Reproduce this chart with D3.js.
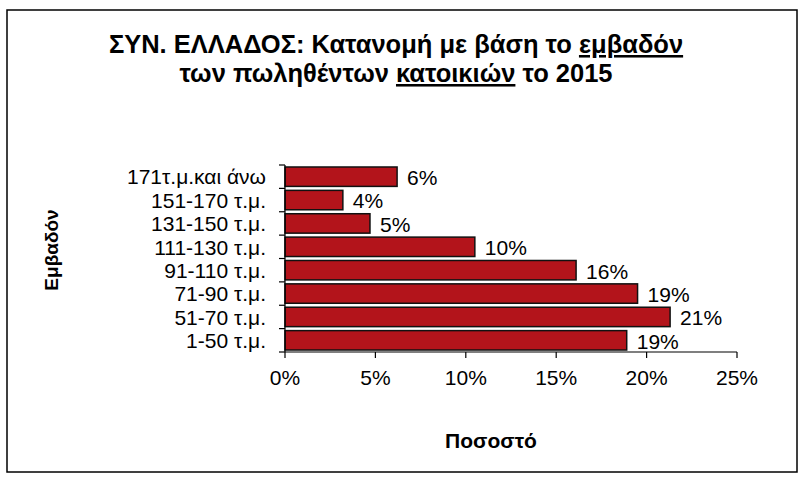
<!DOCTYPE html>
<html><head><meta charset="utf-8">
<script src="https://cdn.jsdelivr.net/npm/d3@7"></script>
<style>body{margin:0;background:#fff}svg{display:block}text{font-family:"Liberation Sans",Arial,sans-serif;fill:#000}</style>
</head><body>
<svg id="c" width="804" height="478"></svg>
<script>
const categories = ["171τ.μ.και άνω","151-170 τ.μ.","131-150 τ.μ.","111-130 τ.μ.","91-110 τ.μ.","71-90 τ.μ.","51-70 τ.μ.","1-50 τ.μ."];
const values = [6.2, 3.2, 4.7, 10.5, 16.1, 19.5, 21.3, 18.9];
const valueLabels = ["6%","4%","5%","10%","16%","19%","21%","19%"];
const xTicks = [0,5,10,15,20,25];

const svg = d3.select("#c");
svg.append("rect").attr("x",7).attr("y",10).attr("width",790).attr("height",462)
  .attr("fill","#fff").attr("stroke","#000").attr("stroke-width",1.5);

const x = d3.scaleLinear().domain([0,25]).range([285,737]);
const y = d3.scaleBand().domain(categories).range([165,352]).paddingInner(0.17).paddingOuter(0.085);

// bars
svg.selectAll("rect.bar").data(categories).join("rect").attr("class","bar")
  .attr("x",x(0)).attr("y",d=>y(d))
  .attr("width",(d,i)=>x(values[i])-x(0)).attr("height",y.bandwidth())
  .attr("fill","#B3141B").attr("stroke","#111").attr("stroke-width",1.5);

// value labels
svg.selectAll("text.val").data(categories).join("text").attr("class","val")
  .attr("x",(d,i)=>x(values[i])+10).attr("y",d=>y(d)+y.bandwidth()/2)
  .attr("dy","0.4em").attr("font-size",21).text((d,i)=>valueLabels[i]);

// y axis
const gy = svg.append("g");
gy.append("line").attr("x1",x(0)).attr("x2",x(0)).attr("y1",y.range()[0]).attr("y2",y.range()[1]).attr("stroke","#000").attr("stroke-width",1.2);
const bounds = categories.map(d=>y(d)-(y.step()-y.bandwidth())/2).concat([y.range()[1]]);
gy.selectAll("line.t").data(bounds).join("line").attr("class","t")
  .attr("x1",x(0)-6).attr("x2",x(0)).attr("y1",d=>d).attr("y2",d=>d).attr("stroke","#000").attr("stroke-width",1.2);
gy.selectAll("text").data(categories).join("text")
  .attr("x",x(0)-19).attr("y",d=>y(d)+y.bandwidth()/2).attr("dy","0.37em")
  .attr("text-anchor","end").attr("font-size",21).text(d=>d);

// x axis
const gx = svg.append("g");
gx.append("line").attr("x1",x(0)).attr("x2",x(25)).attr("y1",352).attr("y2",352).attr("stroke","#000").attr("stroke-width",1.2);
gx.selectAll("line.t").data(xTicks).join("line").attr("class","t")
  .attr("x1",d=>x(d)).attr("x2",d=>x(d)).attr("y1",352).attr("y2",358).attr("stroke","#000").attr("stroke-width",1.2);
gx.selectAll("text").data(xTicks).join("text")
  .attr("x",d=>x(d)).attr("y",385).attr("text-anchor","middle").attr("font-size",21).text(d=>d+"%");

// axis titles
svg.append("text").attr("x",491).attr("y",448).attr("text-anchor","middle")
  .attr("font-size",21).attr("font-weight","bold").text("Ποσοστό");
svg.append("text").attr("transform","translate(58,250) rotate(-90)").attr("text-anchor","middle")
  .attr("font-size",19).attr("font-weight","bold").text("Εμβαδόν");

// title
const t1 = svg.append("text").attr("x",396).attr("y",53).attr("text-anchor","middle")
  .attr("font-size",25.5).attr("font-weight","bold");
t1.append("tspan").text("ΣΥΝ. ΕΛΛΑΔΟΣ: Κατανομή με βάση το ");
t1.append("tspan").attr("text-decoration","underline").text("εμβαδόν");
const t2 = svg.append("text").attr("x",396).attr("y",82).attr("text-anchor","middle")
  .attr("font-size",25.5).attr("font-weight","bold");
t2.append("tspan").text("των πωληθέντων ");
t2.append("tspan").attr("text-decoration","underline").text("κατοικιών");
t2.append("tspan").text(" το 2015");
</script>
</body></html>
